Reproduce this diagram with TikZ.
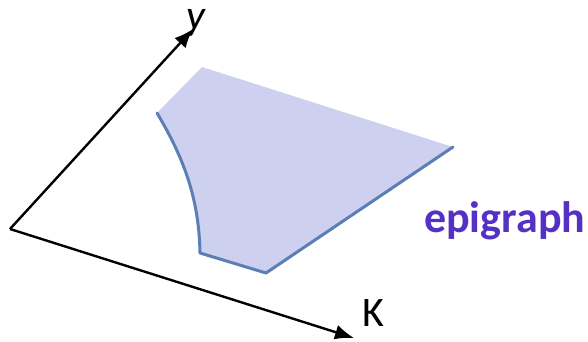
\documentclass[tikz,border=0pt]{standalone}
\usepackage{fontspec}
\setmainfont{Carlito}
\usetikzlibrary{arrows.meta}
\definecolor{epifill}{HTML}{CDD0EE}
\definecolor{epiline}{HTML}{5B7FB5}
\definecolor{epitext}{HTML}{5530C4}
\tikzset{
  axis/.style={line width=2.4pt,-{Latex[length=19pt,width=15pt]}},
  bound/.style={draw=epiline,line width=3pt,line join=round,line cap=round},
}
\begin{document}
\begin{tikzpicture}[x=1pt,y=-1pt]
\useasboundingbox (0,0) rectangle (588,342);
\coordinate (O) at (10,229);
\coordinate (Ytip) at (193,29);
\coordinate (Ktip) at (354,338);
\coordinate (A) at (202,67);
\coordinate (B) at (157,113);
\coordinate (C) at (200,253);
\coordinate (D) at (266,273);
\coordinate (E) at (453,147);
\fill[epifill] (A) -- (B) .. controls (185,160) and (199,200) .. (C) -- (D) -- (E) -- cycle;
\draw[bound] (B) .. controls (185,160) and (199,200) .. (C) -- (D) -- (E);
\draw[axis] (O) -- (Ytip);
\draw[axis] (O) -- (Ktip);
\node[font=\fontsize{42}{42}\selectfont,inner sep=0pt,anchor=base] (ylab) at (196,30) {\textit{y}};
\node[font=\fontsize{42}{42}\selectfont,inner sep=0pt,anchor=base] (klab) at (373,326) {K};
\node[font=\fontsize{44}{44}\selectfont\bfseries,text=epitext,anchor=base west,inner sep=0pt] (epi) at (424,232) {epigraph};
\end{tikzpicture}
\end{document}
